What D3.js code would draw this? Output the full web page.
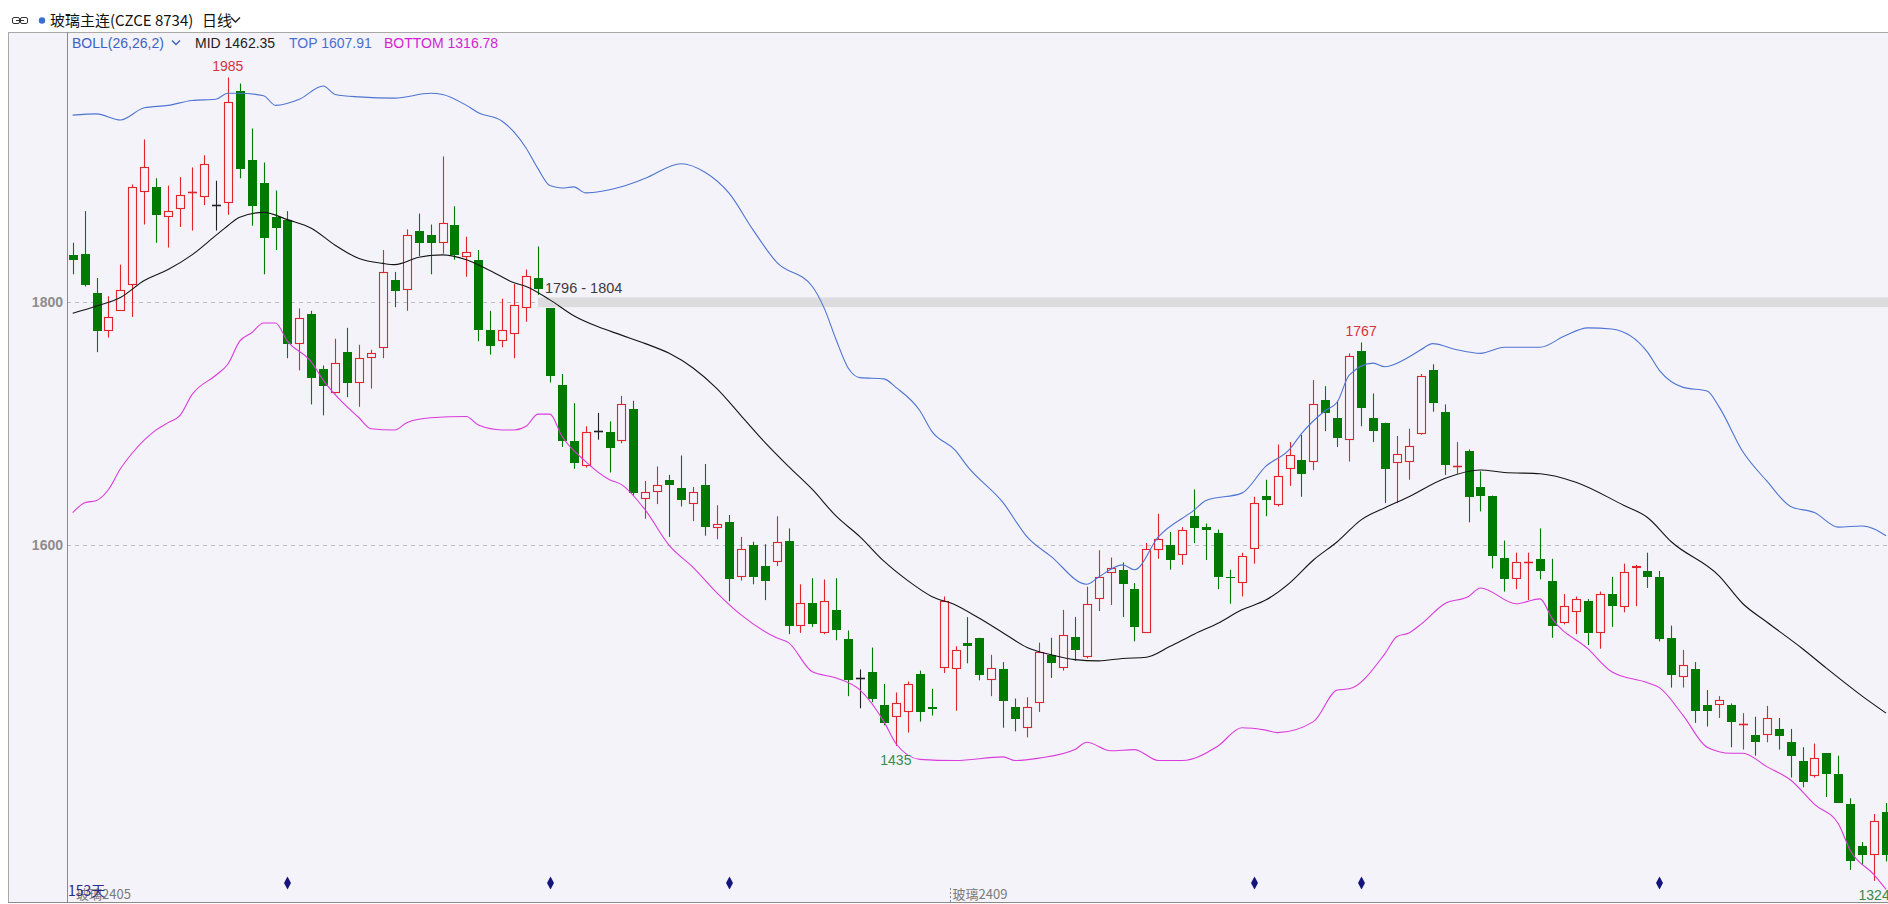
<!DOCTYPE html>
<html>
<head>
<meta charset="utf-8">
<script src="https://cdn.jsdelivr.net/npm/d3@7/dist/d3.min.js"></script>
<style>
  body { margin: 0; background: #fff; }
  svg { display: block; font-family: "Liberation Sans", Arial, sans-serif; }
</style>
</head>
<body>
<div class="canvas"></div>
<script>
const dims = {width: 1888, height: 904};
const frame = {left: 8, axis: 67, top: 32, bottom: 902};

// daily candles, oldest first (153 days)
const openP = [
  1839,1840,1808,1776,1793,1814,1891,1895,1870,1877,
  1891,1887,1880,1882,1974,1917,1898,1870,1868,1766,
  1790,1745,1725,1759,1734,1754,1762,1818,1810,1859,
  1855,1849,1864,1837,1835,1777,1768,1774,1795,1820,
  1795,1732,1686,1665,1694,1693,1686,1712,1638,1644,
  1654,1647,1634,1650,1614,1619,1574,1600,1583,1586,
  1604,1534,1553,1528,1547,1523,1491,1496,1469,1459,
  1463,1494,1467,1499,1498,1520,1524,1489,1498,1467,
  1450,1470,1510,1499,1525,1508,1556,1577,1580,1564,
  1528,1596,1600,1592,1624,1615,1610,1574,1569,1597,
  1641,1633,1663,1670,1669,1720,1705,1687,1760,1705,
  1701,1668,1669,1692,1744,1710,1665,1678,1648,1641,
  1590,1572,1586,1589,1571,1536,1545,1554,1528,1560,
  1549,1581,1579,1574,1524,1492,1498,1469,1469,1469,
  1453,1444,1444,1449,1438,1423,1410,1429,1412,1387,
  1353,1345,1381
];
const highP = [
  1849,1875,1820,1805,1831,1897,1934,1902,1896,1903,
  1911,1921,1900,1985,1980,1943,1915,1892,1875,1795,
  1793,1748,1770,1779,1765,1761,1843,1825,1860,1873,
  1864,1920,1879,1854,1843,1793,1803,1815,1827,1846,
  1795,1741,1717,1698,1709,1702,1723,1719,1653,1665,
  1658,1674,1648,1667,1633,1625,1607,1603,1601,1624,
  1614,1568,1573,1572,1573,1530,1498,1516,1486,1479,
  1488,1497,1482,1558,1517,1541,1524,1510,1504,1474,
  1475,1520,1524,1547,1541,1566,1596,1590,1586,1569,
  1602,1626,1611,1615,1646,1618,1613,1580,1594,1640,
  1654,1683,1685,1691,1736,1731,1719,1758,1767,1725,
  1701,1690,1696,1741,1749,1716,1685,1679,1661,1641,
  1604,1594,1594,1614,1589,1560,1558,1556,1562,1574,
  1585,1584,1594,1579,1534,1514,1504,1481,1476,1470,
  1462,1459,1468,1458,1449,1434,1437,1429,1427,1392,
  1356,1379,1388
];
const lowP = [
  1823,1813,1759,1771,1793,1788,1864,1849,1845,1862,
  1859,1880,1859,1872,1902,1863,1823,1843,1754,1744,
  1716,1707,1725,1722,1714,1729,1754,1796,1793,1838,
  1823,1840,1835,1821,1768,1757,1763,1754,1784,1806,
  1734,1681,1663,1664,1687,1660,1684,1641,1622,1634,
  1607,1632,1620,1608,1605,1554,1571,1568,1555,1583,
  1527,1528,1533,1527,1522,1476,1466,1471,1452,1435,
  1446,1455,1460,1495,1464,1503,1489,1476,1450,1447,
  1442,1463,1491,1497,1505,1507,1546,1551,1541,1521,
  1528,1589,1580,1584,1602,1588,1564,1552,1558,1585,
  1624,1632,1649,1640,1662,1694,1681,1669,1698,1685,
  1635,1635,1654,1691,1710,1658,1659,1619,1628,1581,
  1562,1564,1555,1572,1524,1535,1527,1518,1515,1533,
  1545,1550,1565,1521,1483,1483,1454,1451,1458,1434,
  1432,1427,1438,1432,1409,1401,1409,1393,1388,1333,
  1337,1324,1340
];
const closeP = [
  1835,1814,1776,1788,1810,1895,1911,1872,1875,1888,
  1891,1914,1880,1965,1910,1879,1853,1861,1766,1787,
  1738,1731,1750,1734,1754,1758,1825,1809,1855,1849,
  1849,1865,1839,1841,1777,1764,1777,1798,1822,1811,
  1739,1686,1668,1693,1694,1680,1716,1643,1644,1650,
  1650,1637,1644,1615,1618,1572,1597,1574,1571,1603,
  1534,1553,1535,1554,1530,1489,1491,1474,1454,1470,
  1486,1463,1465,1554,1514,1517,1493,1499,1472,1457,
  1467,1512,1503,1526,1514,1552,1574,1581,1568,1533,
  1597,1605,1588,1613,1614,1613,1574,1573,1591,1635,
  1637,1657,1674,1659,1716,1709,1688,1756,1713,1694,
  1663,1675,1682,1739,1717,1666,1665,1640,1641,1591,
  1572,1586,1586,1579,1534,1550,1556,1528,1560,1550,
  1578,1583,1574,1523,1493,1502,1464,1464,1473,1455,
  1453,1438,1458,1443,1427,1405,1425,1412,1388,1340,
  1345,1373,1345
];

// flat bars (open == close) shown black instead of red
const flatBlack = [12, 44, 66];

// BOLL(26,26,2) as [bar, value]
const midBand = [
  [0,1791],[2,1797],[4,1804],[6,1818],[8,1827],[10,1839],[12,1855],[13,1863],[14,1870],
  [16,1874],[18,1868],[20,1861],[22,1847],[24,1836],[26,1832],[27,1831],[29,1837],[31,1839],
  [33,1835],[35,1826],[37,1816],[38,1813],[40,1802],[42,1789],[44,1780],[46,1773],[48,1766],
  [50,1758],[52,1746],[54,1729],[56,1707],[58,1685],[60,1665],[62,1646],[64,1624],[66,1607],
  [68,1587],[70,1571],[72,1558],[74,1551],[76,1540],[78,1528],[80,1516],[82,1510],[84,1506],
  [86,1505],[88,1507],[90,1508],[92,1517],[94,1527],[96,1536],[98,1547],[100,1555],[102,1569],
  [104,1588],[106,1603],[108,1621],[110,1631],[112,1640],[115,1655],[118,1662],[120,1660],
  [123,1659],[126,1652],[130,1633],[132,1623],[134,1603],[138,1575],[140,1552],[142,1537],
  [145,1515],[147,1499],[150,1476],[152,1462]
];
const topBand = [
  [0,1954],[2,1955],[4,1950],[6,1960],[8,1962],[10,1966],[12,1967],[13,1972],[14,1972],
  [16,1970],[17,1962],[19,1967],[21,1978],[22,1971],[24,1969],[27,1968],[30,1972],[31,1971],
  [33,1962],[34,1956],[36,1949],[37,1940],[38,1927],[39,1910],[40,1896],[41,1894],[42,1895],
  [43,1890],[46,1895],[48,1902],[51,1914],[53,1907],[55,1890],[57,1860],[59,1833],[62,1813],
  [63,1795],[64,1769],[65,1746],[66,1738],[68,1737],[69,1730],[71,1711],[72,1694],[74,1678],
  [75,1665],[78,1635],[80,1607],[82,1591],[85,1568],[86,1574],[88,1584],[89,1580],[91,1607],
  [94,1629],[95,1637],[98,1643],[100,1665],[102,1679],[103,1692],[105,1711],[106,1718],
  [107,1740],[109,1750],[110,1747],[112,1755],[113,1761],[114,1766],[116,1761],[118,1758],
  [120,1763],[123,1763],[125,1772],[127,1779],[129,1778],[132,1759],[133,1744],[135,1730],
  [137,1727],[138,1714],[140,1677],[142,1653],[144,1632],[146,1627],[148,1615],[150,1616],
  [152,1608]
];
const botBand = [
  [0,1627],[1,1635],[2,1637],[3,1646],[4,1663],[5,1676],[7,1695],[8,1701],[9,1707],[10,1724],
  [12,1740],[13,1749],[14,1768],[15,1775],[16,1783],[17,1783],[18,1768],[20,1751],[21,1736],
  [22,1724],[24,1705],[25,1696],[27,1695],[28,1701],[30,1705],[33,1706],[34,1699],[36,1695],
  [37,1695],[38,1698],[39,1708],[40,1708],[41,1690],[43,1669],[45,1654],[46,1650],[48,1629],
  [50,1600],[52,1582],[54,1561],[56,1543],[59,1524],[60,1520],[62,1496],[64,1491],[66,1481],
  [68,1455],[69,1437],[71,1424],[74,1423],[78,1426],[79,1423],[81,1425],[84,1432],[85,1438],
  [87,1431],[89,1432],[91,1423],[93,1423],[96,1435],[98,1450],[100,1448],[101,1446],[104,1455],
  [106,1481],[107,1482],[110,1511],[111,1525],[112,1528],[113,1535],[115,1552],[117,1558],
  [118,1565],[121,1552],[123,1556],[124,1540],[127,1515],[129,1496],[132,1487],[133,1483],
  [135,1460],[137,1434],[139,1429],[140,1429],[142,1418],[144,1407],[146,1387],[148,1371],
  [149,1349],[151,1329],[152,1317]
];

const peakBars = [13, 108];      // labelled highs
const troughBars = [69, 151];    // labelled lows
const markBars = [18, 40, 55, 99, 108, 133];  // blue diamonds at the bottom
const yTicks = [1600, 1800];
const zone = {low: 1796, high: 1804, fromBar: 39};
const rollBar = 74;              // 2405 -> 2409
const dayCount = openP.length;

const bg = "#f3f3f9";
const red = "#e0262b";
const green = "#007a00";

const svg = d3.select(".canvas").append("svg")
    .attr("width", dims.width)
    .attr("height", dims.height);

const x = d3.scaleLinear().domain([0, dayCount - 1]).range([72.7, 72.7 + (dayCount - 1) * 11.93]);
const y = d3.scaleLinear().domain([1600, 1800]).range([545.4, 302.3]);

// panel
svg.append("rect")
    .attr("x", frame.left).attr("y", frame.top)
    .attr("width", dims.width - frame.left).attr("height", frame.bottom - frame.top)
    .attr("fill", bg);

svg.append("defs").append("clipPath").attr("id", "plotclip")
  .append("rect")
    .attr("x", frame.axis + 1).attr("y", frame.top + 1)
    .attr("width", dims.width - frame.axis).attr("height", frame.bottom - frame.top - 1);

const graph = svg.append("g").attr("clip-path", "url(#plotclip)");

// grid lines
graph.selectAll(".grid").data(yTicks).enter().append("line")
    .attr("x1", frame.axis).attr("x2", dims.width)
    .attr("y1", d => Math.round(y(d)) + 0.5).attr("y2", d => Math.round(y(d)) + 0.5)
    .attr("stroke", "#bdbdc4").attr("stroke-dasharray", "4,4");

// 1796 - 1804 zone
graph.append("rect")
    .attr("x", x(zone.fromBar))
    .attr("y", y(zone.high))
    .attr("width", dims.width - x(zone.fromBar))
    .attr("height", y(zone.low) - y(zone.high))
    .attr("fill", "#dcdcde");

// candles
const bars = d3.range(dayCount).map(i => ({i, o: openP[i], h: highP[i], l: lowP[i], c: closeP[i]}));
const colorOf = d => d.c > d.o ? red : d.c < d.o ? green : (flatBlack.includes(d.i) ? "#222" : red);
const cxOf = d => Math.round(x(d.i));

const candles = graph.selectAll(".candle").data(bars).enter().append("g").attr("class", "candle");

candles.append("line")
    .attr("x1", d => cxOf(d) + 0.5).attr("x2", d => cxOf(d) + 0.5)
    .attr("y1", d => y(d.h)).attr("y2", d => y(d.l))
    .attr("stroke", colorOf).attr("stroke-width", 1.1);

candles.filter(d => d.c > d.o).append("rect")
    .attr("x", d => cxOf(d) - 3.5)
    .attr("y", d => Math.round(y(d.c)) + 0.5)
    .attr("width", 8)
    .attr("height", d => Math.max(Math.round(y(d.o)) - Math.round(y(d.c)) - 1, 1))
    .attr("fill", bg).attr("stroke", red).attr("stroke-width", 1.1);

candles.filter(d => d.c < d.o).append("rect")
    .attr("x", d => cxOf(d) - 4)
    .attr("y", d => Math.round(y(d.o)))
    .attr("width", 9)
    .attr("height", d => Math.max(Math.round(y(d.c)) - Math.round(y(d.o)), 1))
    .attr("fill", green);

candles.filter(d => d.c === d.o).append("line")
    .attr("x1", d => cxOf(d) - 4).attr("x2", d => cxOf(d) + 5)
    .attr("y1", d => Math.round(y(d.c)) + 0.5).attr("y2", d => Math.round(y(d.c)) + 0.5)
    .attr("stroke", colorOf).attr("stroke-width", 1.6);

// bollinger bands
const bandLine = d3.line().x(d => x(d[0])).y(d => y(d[1])).curve(d3.curveMonotoneX);
[[topBand, "#4f74d2"], [botBand, "#dc3bdc"], [midBand, "#141414"]].forEach(([pts, col]) => {
  graph.append("path")
      .attr("d", bandLine(pts))
      .attr("fill", "none").attr("stroke", col).attr("stroke-width", 1.1);
});

// zone label
graph.append("text")
    .attr("x", x(zone.fromBar) + 7).attr("y", y(zone.high) - 4)
    .attr("font-size", 14.5).attr("fill", "#3c3c3c")
    .text(`${zone.low} - ${zone.high}`);

// swing labels
graph.selectAll(".peak").data(peakBars).enter().append("text")
    .attr("x", d => x(d)).attr("y", d => y(highP[d]) - 6)
    .attr("text-anchor", "middle").attr("font-size", 14).attr("fill", "#d8323a")
    .text(d => highP[d]);

graph.selectAll(".trough").data(troughBars).enter().append("text")
    .attr("x", d => x(d)).attr("y", d => y(lowP[d]) + 19)
    .attr("text-anchor", "middle").attr("font-size", 14).attr("fill", "#3a8a4a")
    .text(d => lowP[d]);

// diamonds
graph.selectAll(".mark").data(markBars).enter().append("path")
    .attr("transform", d => `translate(${cxOf({i: d}) + 0.5}, 883)`)
    .attr("d", "M0,-6.5L3.5,0L0,6.5L-3.5,0Z")
    .attr("fill", "#14147a");

// contract labels along the bottom
graph.append("text")
    .attr("x", 76).attr("y", 899)
    .attr("font-size", 13).attr("fill", "#7a7a7a")
    .attr("font-family", "'Noto Sans CJK SC', sans-serif")
    .text("玻璃2405");
graph.append("text")
    .attr("x", 68).attr("y", 896)
    .attr("font-size", 14).attr("fill", "#2a2a8c")
    .attr("font-family", "'Noto Sans CJK SC', sans-serif")
    .text(`${dayCount}天`);

const rollX = Math.round((x(rollBar - 1) + x(rollBar)) / 2) + 0.5;
graph.append("line")
    .attr("x1", rollX).attr("x2", rollX).attr("y1", 888).attr("y2", frame.bottom)
    .attr("stroke", "#888").attr("stroke-dasharray", "2,2");
graph.append("text")
    .attr("x", rollX + 2).attr("y", 899)
    .attr("font-size", 13).attr("fill", "#7a7a7a")
    .attr("font-family", "'Noto Sans CJK SC', sans-serif")
    .text("玻璃2409");

// frame lines
svg.append("line").attr("x1", frame.left).attr("x2", dims.width)
    .attr("y1", frame.top + 0.5).attr("y2", frame.top + 0.5).attr("stroke", "#a8a8a8");
svg.append("line").attr("x1", frame.left).attr("x2", dims.width)
    .attr("y1", frame.bottom + 0.5).attr("y2", frame.bottom + 0.5).attr("stroke", "#8a8a8a");
svg.append("line").attr("x1", frame.left + 0.5).attr("x2", frame.left + 0.5)
    .attr("y1", frame.top).attr("y2", frame.bottom).attr("stroke", "#a8a8a8");
svg.append("line").attr("x1", frame.axis + 0.5).attr("x2", frame.axis + 0.5)
    .attr("y1", frame.top).attr("y2", frame.bottom).attr("stroke", "#8a8a8a");

// y axis labels
svg.selectAll(".ytick").data(yTicks).enter().append("text")
    .attr("x", frame.axis - 4).attr("y", d => y(d) + 5)
    .attr("text-anchor", "end").attr("font-size", 14).attr("font-weight", "bold")
    .attr("fill", "#8c8c8c")
    .text(d => d);

// header
const head = svg.append("g");
head.append("rect").attr("x", 12.5).attr("y", 17.5).attr("width", 7).attr("height", 6).attr("rx", 1.5)
    .attr("fill", "none").attr("stroke", "#333");
head.append("rect").attr("x", 20.5).attr("y", 17.5).attr("width", 7).attr("height", 6).attr("rx", 1.5)
    .attr("fill", "none").attr("stroke", "#333");
head.append("line").attr("x1", 16).attr("x2", 24).attr("y1", 20.5).attr("y2", 20.5).attr("stroke", "#333");
head.append("circle").attr("cx", 42).attr("cy", 20.5).attr("r", 3.2).attr("fill", "#3a6fd0");
head.append("text").attr("x", 50).attr("y", 26)
    .attr("font-size", 15).attr("fill", "#111")
    .attr("font-family", "'Noto Sans CJK SC', sans-serif")
    .text("玻璃主连(CZCE 8734)");
head.append("text").attr("x", 202).attr("y", 26)
    .attr("font-size", 15).attr("fill", "#111")
    .attr("font-family", "'Noto Sans CJK SC', sans-serif")
    .text("日线");
head.append("path").attr("d", "M231,17.5L235.5,22L240,17.5")
    .attr("fill", "none").attr("stroke", "#222").attr("stroke-width", 1.4);

// legend
const legend = svg.append("g").attr("font-size", 14);
legend.append("text").attr("x", 72).attr("y", 48).attr("fill", "#3d62c4").text("BOLL(26,26,2)");
legend.append("path").attr("d", "M172,40.5L176,44.5L180,40.5")
    .attr("fill", "none").attr("stroke", "#3d62c4").attr("stroke-width", 1.4);
legend.append("text").attr("x", 195).attr("y", 48).attr("fill", "#222").text("MID 1462.35");
legend.append("text").attr("x", 289).attr("y", 48).attr("fill", "#4a6fd0").text("TOP 1607.91");
legend.append("text").attr("x", 384).attr("y", 48).attr("fill", "#d21fd2").text("BOTTOM 1316.78");
</script>
</body>
</html>
